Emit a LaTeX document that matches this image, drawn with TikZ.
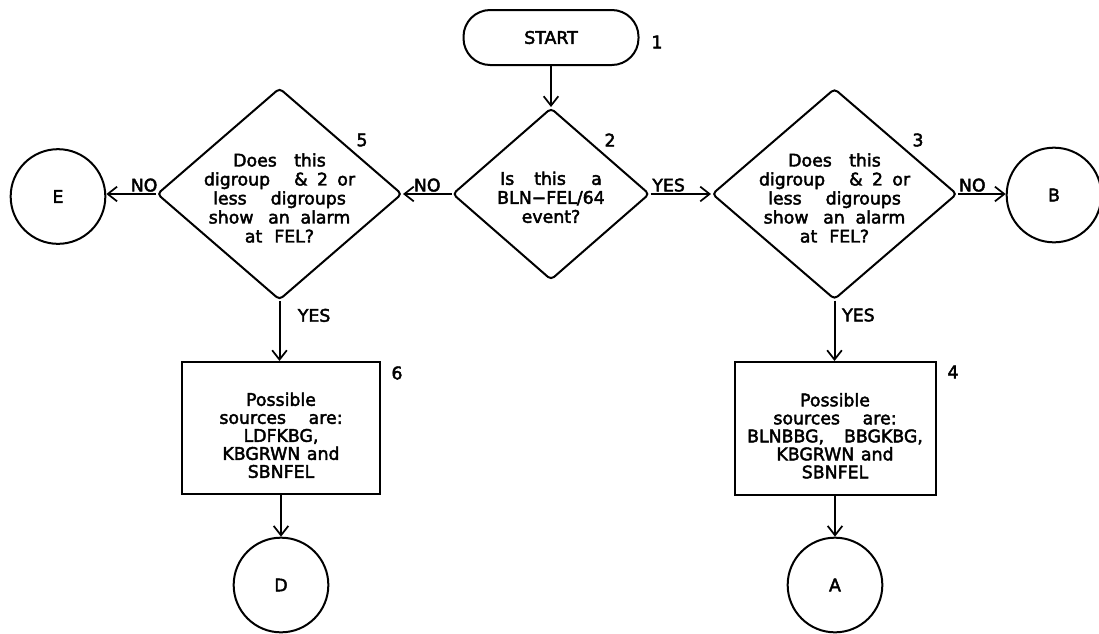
\documentclass[tikz,border=0pt]{standalone}
\usepackage{fontspec}
\setmainfont[FakeBold=2.5]{DejaVu Sans}
\usetikzlibrary{shapes.geometric,arrows.meta}
\begin{document}
\begin{tikzpicture}[x=0.75pt,y=-0.75pt,
  line width=1.5pt,
  every node/.style={font=\fontsize{13}{14.25}\selectfont},
  arr/.style={-{Straight Barb[length=7pt,width=11pt,line width=1.3pt]}},
  startbox/.style={draw,rectangle,rounded corners=20pt,minimum width=131.25pt,minimum height=41.25pt,inner sep=0pt},
  dia/.style={draw,diamond,rounded corners=3pt,inner sep=0pt},
  pbox/.style={draw,rectangle,inner sep=0pt},
  conn/.style={draw,circle,inner sep=0pt,minimum size=71pt},
  txt/.style={align=center,inner sep=0pt},
  lbl/.style={inner sep=1pt},
  num/.style={inner sep=0pt}
]
\useasboundingbox (0,0) rectangle (1099,633);
\begin{scope}
\clip (0,0) rectangle (1099,633);
% main nodes
\node[startbox] (start) at (551,37.5) {START};
\node[dia,minimum width=147.75pt,minimum height=129pt] (d2) at (551,194) {};
\node[dia,minimum width=183.75pt,minimum height=158.25pt] (d3) at (834.5,194) {};
\node[dia,minimum width=183.75pt,minimum height=159pt] (d5) at (279.5,194) {};
\node[pbox,minimum width=148.5pt,minimum height=99pt] (b6) at (281,428) {};
\node[pbox,minimum width=150.75pt,minimum height=99.75pt] (b4) at (835,428.5) {};
\node[conn] (E) at (58,196.5) {E};
\node[conn] (B) at (1054,195) {B};
\node[conn] (D) at (281,585) {D};
\node[conn] (A) at (835,585) {A};
\end{scope}
% texts inside shapes
\node[txt,yshift=-2.5pt] (t2) at (d2.center) {Is\hspace{15pt}this\hspace{19pt}a\\BLN−FEL/64\\event?};
\node[txt,yshift=-3pt] (t3) at (d3.center) {Does\hspace{13pt}this\\digroup\hspace{18pt}\&\hspace{7pt}2\hspace{7pt}or\\less\hspace{18pt}digroups\\show\hspace{11pt}an\hspace{8pt}alarm\\at\hspace{9pt}FEL?};
\node[txt,yshift=-3pt] (t5) at (d5.center) {Does\hspace{13pt}this\\digroup\hspace{18pt}\&\hspace{7pt}2\hspace{7pt}or\\less\hspace{18pt}digroups\\show\hspace{11pt}an\hspace{8pt}alarm\\at\hspace{9pt}FEL?};
\node[txt,yshift=-5.5pt,font=\fontsize{13}{13.5}\selectfont] (t6) at (b6.center) {Possible\\sources\hspace{17pt}are:\\LDFKBG,\\KBGRWN\hspace{5pt}and\\SBNFEL};
\node[txt,yshift=-5.5pt,font=\fontsize{13}{13.5}\selectfont] (t4) at (b4.center) {Possible\\sources\hspace{17pt}are:\\BLNBBG,\hspace{15pt}BBGKBG,\\KBGRWN\hspace{5pt}and\\SBNFEL};
% step numbers
\node[num] (n1) at (657,42) {1};
\node[num] (n2) at (610,140) {2};
\node[num] (n3) at (918,140) {3};
\node[num] (n5) at (362,140) {5};
\node[num] (n6) at (397,373) {6};
\node[num] (n4) at (953,372) {4};
% connectors
\draw[arr] (start.south) -- (d2.north);
\draw[arr] (d2.west) -- node[lbl,above] (l2no) {NO} (d5.east);
\draw[arr] (d2.east) -- node[lbl,above,pos=0.3] (l2yes) {YES} (d3.west);
\draw[arr] (d5.west) -- node[lbl,above,pos=0.24] (l5no) {NO} (d5.west -| E.east);
\draw[arr] (d3.east) -- node[lbl,above,pos=0.3] (l3no) {NO} (d3.east -| B.west);
\draw[arr] (d5.south) -- node[lbl,anchor=west,pos=0.24,xshift=12pt] (l5yes) {YES} (d5.south |- b6.north);
\draw[arr] (d3.south) -- node[lbl,anchor=west,pos=0.24,xshift=4pt] (l3yes) {YES} (d3.south |- b4.north);
\draw[arr] (b6.south) -- (b6.south |- D.north);
\draw[arr] (b4.south) -- (b4.south |- A.north);
\end{tikzpicture}
\end{document}
